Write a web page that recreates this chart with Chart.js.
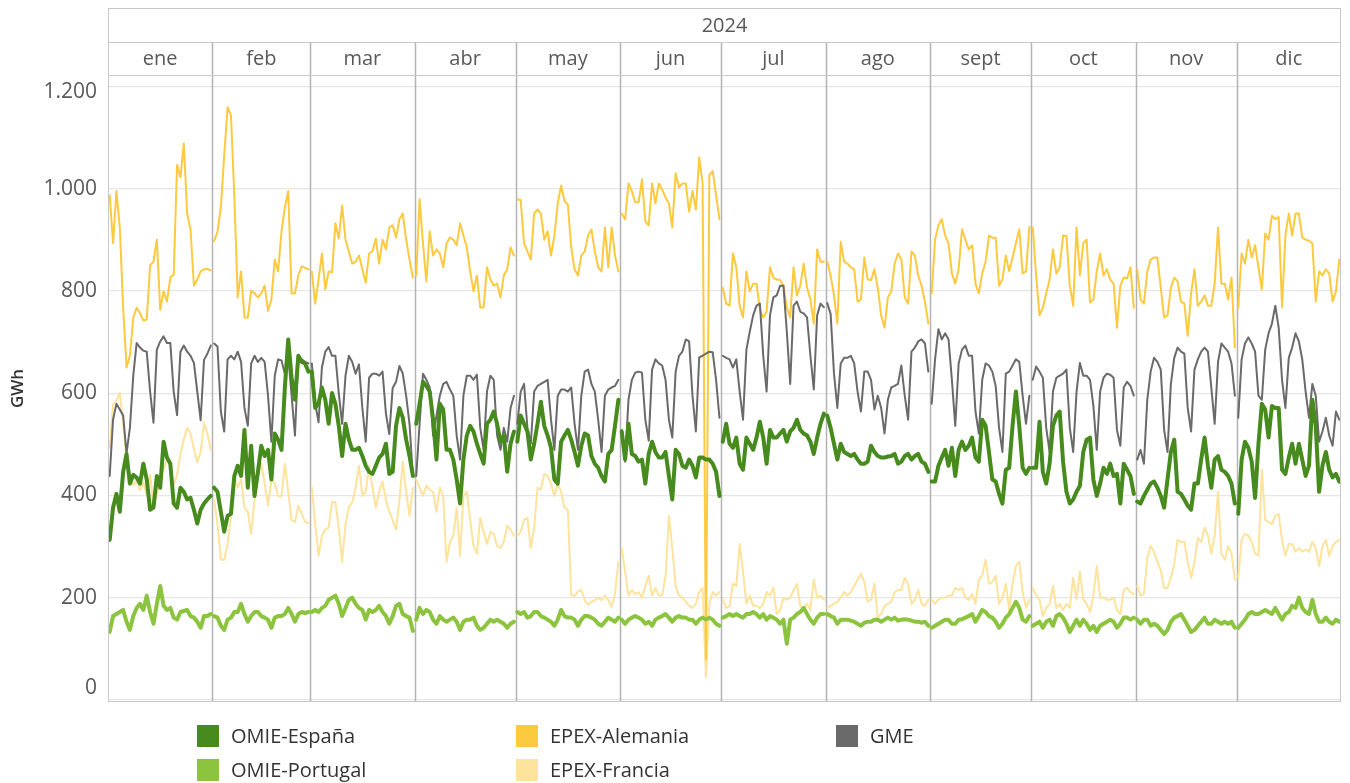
<!DOCTYPE html>
<html>
<head>
<meta charset="utf-8">
<script src="https://cdn.jsdelivr.net/npm/chart.js@4.4.1/dist/chart.umd.min.js"></script>
<style>
  html, body { margin: 0; padding: 0; background: #fff; }
  #wrap { width: 1350px; height: 783px; position: relative; }
</style>
</head>
<body>
<div id="wrap"><canvas id="chart" width="1350" height="783"></canvas></div>
<script>
// daily GWh 2024, one row per month
const months = ["ene", "feb", "mar", "abr", "may", "jun", "jul", "ago", "sept", "oct", "nov", "dic"];
const monthDays = [31, 29, 31, 30, 31, 30, 31, 31, 30, 31, 30, 31];
const yearLabel = "2024";
const yTicks = [0, 200, 400, 600, 800, 1000, 1200];

const omieEspana = [
  313,376,403,368,446,481,423,440,435,423,462,431,372,376,438,415,505,474,462,384,376,415,407,392,395,372,345,372,384,392,399,
  415,407,368,329,360,364,438,458,438,528,415,497,399,446,497,477,489,431,521,509,489,611,705,630,587,673,661,658,642,
  642,571,579,611,587,540,600,579,536,477,540,509,489,489,493,477,458,446,442,458,474,481,501,442,446,536,571,552,509,477,438,
  540,579,622,614,603,548,470,579,568,489,489,470,431,384,470,517,536,525,501,481,462,540,548,564,540,505,517,446,501,525,
  505,556,540,525,470,501,540,583,536,517,493,431,423,505,517,528,509,485,458,497,521,517,477,462,454,438,427,481,489,536,587,
  525,470,540,481,477,466,470,423,481,505,485,474,474,485,438,392,489,481,458,454,470,458,435,474,474,470,470,462,446,399,
  505,540,501,493,513,462,450,513,501,489,513,544,513,462,528,513,513,521,528,505,525,532,548,528,521,517,505,481,513,540,560,
  556,532,501,470,501,485,481,477,481,470,462,462,466,497,485,477,474,474,476,477,481,462,466,477,481,470,477,481,466,462,446,
  427,427,458,474,489,458,493,438,489,505,489,497,513,474,466,548,536,485,431,427,403,384,450,454,536,603,536,454,442,454,
  454,454,544,446,423,462,536,556,564,466,407,384,392,407,419,485,509,513,431,399,423,454,442,462,438,442,384,462,450,438,403,
  388,384,399,411,423,427,415,399,376,431,485,509,407,403,392,380,372,423,423,470,513,458,415,470,477,450,446,438,423,384,
  364,470,505,493,466,395,501,579,568,513,575,571,571,450,442,474,501,462,501,470,438,458,587,536,407,458,485,450,435,442,427
];

const omiePortugal = [
  133,164,168,172,176,153,137,164,180,188,176,204,172,149,188,223,184,176,180,161,157,172,174,176,164,161,153,141,164,164,168,
  164,161,145,137,157,161,172,172,188,168,153,164,172,172,164,161,157,141,161,164,164,168,180,168,153,168,172,170,172,
  172,176,172,180,184,196,200,204,188,164,180,196,200,188,180,176,157,176,172,176,184,172,164,149,164,184,188,168,164,161,135,
  157,180,168,176,172,157,149,164,157,153,157,161,153,137,153,157,157,161,145,137,141,149,157,153,157,153,149,141,149,153,
  172,168,172,161,164,172,172,164,161,157,153,145,157,176,164,161,161,157,145,157,164,164,161,157,149,145,153,161,157,153,161,
  157,149,157,161,164,161,157,149,153,145,157,161,164,168,161,153,161,164,161,161,157,157,149,157,161,157,161,157,149,145,
  161,164,168,164,168,164,161,168,168,172,168,161,168,157,164,161,157,149,157,110,157,161,168,172,180,168,157,149,161,168,168,
  168,164,161,149,157,157,157,155,153,149,145,151,153,153,157,157,153,157,161,157,161,155,157,158,157,155,153,153,151,153,145,
  141,145,149,153,157,157,149,149,157,158,161,164,168,153,164,176,172,164,161,153,141,149,161,168,180,192,180,157,153,164,
  145,149,153,141,153,157,145,164,168,161,149,133,145,157,145,157,149,137,145,133,145,149,153,157,153,141,149,161,161,157,161,
  157,149,157,157,145,149,145,137,129,137,153,161,164,168,157,145,133,137,145,153,161,149,149,157,153,149,153,149,153,141,
  141,149,157,168,172,168,168,172,176,172,168,180,168,157,168,172,184,180,200,180,172,168,196,168,153,153,161,153,149,157,153
];

const epexAlemania = [
  987,893,995,924,767,650,673,748,767,756,742,744,850,857,900,763,799,779,826,832,1046,1022,1088,951,920,810,822,838,842,843,840,
  897,916,963,1065,1159,1143,987,787,838,748,748,800,795,787,795,810,761,783,861,838,916,963,995,795,795,830,848,845,842,
  838,775,822,873,803,838,836,932,902,967,900,877,853,857,869,842,816,873,877,902,853,900,881,924,928,904,940,951,900,861,826,
  830,979,893,818,916,869,881,873,846,893,904,900,889,932,908,885,838,799,830,767,768,846,822,810,814,787,830,842,885,869,
  979,977,893,877,861,951,959,951,900,916,869,908,971,1006,975,969,885,842,830,869,877,908,920,877,846,838,924,846,924,869,838,
  951,940,1010,995,973,973,1018,936,928,1010,971,1010,998,983,971,924,1030,1002,1010,1010,955,995,959,1061,1010,80,1026,1034,987,940,
  806,775,771,873,846,771,748,838,799,814,814,763,748,759,846,826,822,821,810,767,748,846,791,810,853,806,783,736,881,857,857,
  857,830,791,736,896,857,853,846,842,779,783,865,822,821,842,806,752,728,787,799,853,873,861,787,775,877,869,830,810,779,736,
  795,900,928,940,908,893,834,814,842,920,900,881,889,814,795,834,857,908,904,904,810,822,869,838,865,893,920,834,838,925,
  924,830,752,767,795,822,881,834,846,908,907,810,771,924,830,893,900,777,783,838,873,830,842,822,814,728,810,826,824,846,767,
  842,783,775,838,861,865,865,806,748,752,806,826,818,779,775,712,795,842,771,779,791,771,771,814,924,814,814,783,826,689,
  767,873,853,900,865,889,846,803,912,900,947,940,944,768,908,951,908,951,951,904,900,898,893,779,838,830,842,834,779,799,861
];

const epexFrancia = [
  493,578,585,601,540,470,440,420,430,410,425,400,440,380,400,440,450,470,460,420,440,480,510,532,521,490,465,485,542,521,489,
  391,344,274,274,305,360,438,415,431,376,368,325,391,438,462,423,380,431,423,399,399,462,407,352,348,380,364,348,346,
  415,344,282,321,333,337,387,387,337,270,344,376,387,415,458,399,407,458,415,376,407,427,391,368,352,333,391,466,407,360,415,
  431,415,399,419,411,407,368,415,399,270,309,321,376,282,399,407,352,301,286,356,329,305,329,325,301,297,309,341,333,321,
  321,329,352,356,297,337,415,411,442,438,423,399,423,407,376,372,205,203,212,215,195,186,192,195,200,195,204,195,182,208,270,
  297,251,204,215,207,211,200,223,243,204,219,204,204,243,360,297,223,204,200,192,184,180,188,211,219,45,188,211,204,211,
  196,180,184,227,223,305,251,188,204,184,184,180,188,211,204,219,168,176,200,196,200,215,227,184,176,188,176,235,200,204,196,
  180,184,188,192,200,211,204,211,223,235,247,231,192,196,227,161,168,184,188,192,211,215,215,239,227,188,196,215,188,184,196,
  196,188,196,200,200,204,204,219,215,219,200,196,207,188,235,243,274,227,231,243,188,200,227,176,227,262,270,211,180,196,
  219,204,196,164,180,188,223,180,188,176,188,180,239,196,251,196,188,172,204,262,200,200,196,196,200,176,168,215,219,211,207,
  223,204,207,278,301,290,270,254,219,219,239,266,313,309,309,270,239,270,317,309,337,321,286,321,407,286,274,301,286,235,
  239,313,325,321,309,286,282,450,352,348,344,360,364,313,282,305,305,290,297,290,294,290,309,297,262,301,313,282,301,309,313
];

const gme = [
  438,548,579,568,556,482,532,634,698,689,683,681,603,542,685,701,711,698,698,603,557,681,693,681,673,659,603,547,665,677,693,
  697,691,564,525,666,673,666,681,661,571,536,658,673,661,669,661,595,505,634,666,664,638,673,595,517,673,666,661,658,
  658,580,543,650,681,690,673,673,600,540,634,673,661,638,656,571,505,630,638,638,634,642,560,520,610,622,653,638,595,540,438,
  438,540,638,626,611,517,556,595,618,622,607,595,517,470,595,634,634,626,636,532,489,603,634,626,517,489,532,505,571,595,
  540,603,618,532,501,603,614,618,622,626,548,489,595,607,607,603,611,540,489,595,642,646,618,603,548,485,595,607,611,614,626,
  528,466,587,626,640,642,640,548,507,646,666,658,654,626,548,513,642,673,681,705,701,595,525,670,673,677,681,680,626,552,
  673,669,666,650,666,603,548,685,720,752,771,775,673,603,752,787,791,810,810,720,618,771,779,759,756,748,673,607,752,775,768,
  776,755,638,571,658,669,669,673,658,603,564,642,642,626,568,595,571,521,587,611,614,618,654,595,548,681,689,701,705,697,642,
  579,666,725,705,717,705,626,536,658,685,693,673,673,564,521,626,658,654,642,614,532,485,638,642,654,666,661,595,540,595,
  626,652,642,630,532,485,603,630,634,638,646,532,485,603,659,634,634,626,575,489,603,630,638,636,630,528,497,611,622,614,595,
  470,489,462,587,642,669,661,646,528,485,618,669,689,681,677,571,525,646,666,681,689,681,611,540,661,697,689,681,658,595,
  552,666,697,709,697,681,595,587,685,717,736,771,728,626,571,669,689,717,701,666,603,552,618,595,505,525,552,517,497,564,548
];

const seriesNames = ["OMIE-España", "OMIE-Portugal", "EPEX-Alemania", "EPEX-Francia", "GME"];
const seriesColors = ["#478a1d", "#8cc43f", "#fdc93f", "#fde39c", "#6a6a6a"];

const FONT = "'Open Sans', 'Noto Sans', sans-serif";
const TEXT = "#595959";

// split each series at month ends so every month is its own segment
function toPoints(values) {
  let pts = [];
  let off = 0;
  monthDays.forEach((n, m) => {
    for (let d = 0; d < n; d++) {
      pts.push({ x: off + d + 0.5, y: values[off + d] });
    }
    off += n;
    if (m < monthDays.length - 1) pts.push({ x: off, y: null });
  });
  return pts;
}

let monthStarts = [0];
monthDays.forEach((n, i) => monthStarts.push(monthStarts[i] + n));
const totalDays = monthStarts[monthStarts.length - 1];

const headerTop = 8;
const headerMid = 42;

const panelsPlugin = {
  id: "panels",
  beforeDatasetsDraw(chart) {
    const { ctx, chartArea: a, scales } = chart;
    ctx.save();
    // month separators through the plot
    ctx.strokeStyle = "#b3b3b3";
    ctx.lineWidth = 1.5;
    for (let i = 1; i < monthStarts.length - 1; i++) {
      let x = Math.round(scales.x.getPixelForValue(monthStarts[i])) + 0.5;
      ctx.beginPath();
      ctx.moveTo(x, headerMid);
      ctx.lineTo(x, a.bottom);
      ctx.stroke();
    }
    ctx.restore();
  },
  afterDraw(chart) {
    const { ctx, chartArea: a, scales } = chart;
    ctx.save();
    // header frame
    ctx.strokeStyle = "#c8c8c8";
    ctx.lineWidth = 1;
    ctx.strokeRect(a.left + 0.5, headerTop + 0.5, a.right - a.left - 1, a.bottom - headerTop - 1);
    ctx.beginPath();
    ctx.moveTo(a.left, headerMid + 0.5);
    ctx.lineTo(a.right, headerMid + 0.5);
    ctx.moveTo(a.left, a.top + 0.5);
    ctx.lineTo(a.right, a.top + 0.5);
    ctx.stroke();

    ctx.fillStyle = TEXT;
    ctx.font = "20px " + FONT;
    ctx.textAlign = "center";
    ctx.textBaseline = "middle";
    ctx.fillText(yearLabel, (a.left + a.right) / 2, (headerTop + headerMid) / 2 + 1);
    months.forEach((m, i) => {
      let x0 = scales.x.getPixelForValue(monthStarts[i]);
      let x1 = scales.x.getPixelForValue(monthStarts[i + 1]);
      ctx.fillText(m, (x0 + x1) / 2, (headerMid + a.top) / 2 + 1);
    });

    // y tick labels, kept inside the pane like the original
    ctx.textAlign = "right";
    ctx.font = "21px " + FONT;
    yTicks.forEach((v) => {
      let y = scales.y.getPixelForValue(v);
      y = Math.min(Math.max(y, a.top + 17), a.bottom - 14);
      let label = v >= 1000 ? Math.floor(v / 1000) + "." + String(v % 1000).padStart(3, "0") : String(v);
      ctx.fillText(label, a.left - 11, y);
    });

    // axis title
    ctx.save();
    ctx.translate(18, (a.top + a.bottom) / 2);
    ctx.rotate(-Math.PI / 2);
    ctx.textAlign = "center";
    ctx.fillStyle = "#333";
    ctx.font = "600 17px " + FONT;
    ctx.fillText("GWh", 0, 0);
    ctx.restore();

    // legend: 3 columns x 2 rows
    const cols = [197, 516, 836];
    const rows = [736, 770];
    const order = [0, 2, 4, 1, 3];
    const slots = [[0, 0], [1, 0], [2, 0], [0, 1], [1, 1]];
    ctx.textAlign = "left";
    ctx.font = "20px " + FONT;
    order.forEach((si, k) => {
      let [c, r] = slots[k];
      ctx.fillStyle = seriesColors[si];
      ctx.fillRect(cols[c], rows[r] - 11, 22, 22);
      ctx.fillStyle = "#333";
      ctx.fillText(seriesNames[si], cols[c] + 34, rows[r] + 1);
    });
    ctx.restore();
  }
};

const rawSeries = [omieEspana, omiePortugal, epexAlemania, epexFrancia, gme];
const widths = [4, 4, 2, 2, 2];
const drawOrder = [1, 2, 4, 5, 3];

new Chart(document.getElementById("chart"), {
  type: "line",
  data: {
    datasets: rawSeries.map((vals, i) => ({
      label: seriesNames[i],
      data: toPoints(vals),
      borderColor: seriesColors[i],
      backgroundColor: seriesColors[i],
      borderWidth: widths[i],
      pointRadius: 0,
      tension: 0,
      spanGaps: false,
      order: drawOrder[i],
      borderJoinStyle: "round",
      borderCapStyle: "round"
    }))
  },
  options: {
    responsive: false,
    animation: false,
    layout: { padding: { top: 75, bottom: 81, right: 9, left: 0 } },
    plugins: { legend: { display: false }, tooltip: { enabled: false } },
    scales: {
      x: { type: "linear", display: false, min: 0, max: totalDays },
      y: {
        min: -4,
        max: 1222,
        afterFit: (s) => { s.width = 108; },
        afterBuildTicks: (s) => { s.ticks = yTicks.map((v) => ({ value: v })); },
        border: { display: false },
        grid: { color: "#e6e6e6", lineWidth: 1.2, drawTicks: false },
        ticks: { display: false }
      }
    }
  },
  plugins: [panelsPlugin]
});
</script>
</body>
</html>
